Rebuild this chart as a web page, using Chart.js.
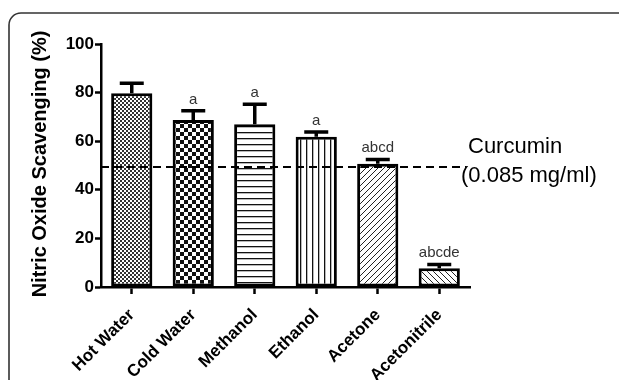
<!DOCTYPE html>
<html>
<head>
<meta charset="utf-8">
<script src="https://cdn.jsdelivr.net/npm/chart.js@4"></script>
<style>
body { margin: 0; background: #fff; }
#wrap { width: 619px; height: 380px; }
</style>
</head>
<body>
<div id="wrap"><canvas id="myChart" width="619" height="380"></canvas></div>
<script>
var categories = ["Hot Water", "Cold Water", "Methanol", "Ethanol", "Acetone", "Acetonitrile"];
var scavenging = [79.7, 68.7, 67, 61.8, 50.7, 7.7];
var errors = [4.1, 3.8, 8.2, 2.0, 1.8, 1.6];
var letters = ["", "a", "a", "a", "abcd", "abcde"];
var yTicks = [0, 20, 40, 60, 80, 100];
var curcuminValue = 49.4;
var curcuminLabel = ["Curcumin", "(0.085 mg/ml)"];
var yTitle = "Nitric Oxide Scavenging (%)";

var FONT = "'Liberation Sans', Arial, sans-serif";
Chart.defaults.font.family = FONT;

// fill patterns, one per bar
function makePattern(kind) {
    var c = document.createElement('canvas');
    var g = c.getContext('2d');
    var s = 6;
    if (kind == 'fine') s = 4;
    if (kind == 'checker') s = 8;
    c.width = s; c.height = s;
    g.fillStyle = '#fff';
    g.fillRect(0, 0, s, s);
    g.fillStyle = '#111';
    g.strokeStyle = '#222';
    if (kind == 'fine') {
        g.fillStyle = '#333';
        g.fillRect(0, 0, 2, 2);
        g.fillRect(2, 2, 2, 2);
    } else if (kind == 'checker') {
        g.fillRect(0, 0, 4, 4);
        g.fillRect(4, 4, 4, 4);
    } else if (kind == 'hlines') {
        g.fillRect(0, 0, s, 1.3);
    } else if (kind == 'vlines') {
        g.fillRect(0, 0, 1.3, s);
    } else if (kind == 'fwd') {
        g.lineWidth = 1;
        g.beginPath();
        g.moveTo(-1, s + 1); g.lineTo(s + 1, -1);
        g.moveTo(-1, 1); g.lineTo(1, -1);
        g.moveTo(s - 1, s + 1); g.lineTo(s + 1, s - 1);
        g.stroke();
    } else if (kind == 'back') {
        g.lineWidth = 1;
        g.beginPath();
        g.moveTo(-1, -1); g.lineTo(s + 1, s + 1);
        g.moveTo(s - 1, -1); g.lineTo(s + 1, 1);
        g.moveTo(-1, s - 1); g.lineTo(1, s + 1);
        g.stroke();
    }
    return document.getElementById('myChart').getContext('2d').createPattern(c, 'repeat');
}
var fills = ['fine', 'checker', 'hlines', 'vlines', 'fwd', 'back'].map(makePattern);

var decorations = {
    id: 'decorations',
    beforeDraw: function(chart) {
        var ctx = chart.ctx;
        ctx.save();
        ctx.fillStyle = '#fff';
        ctx.fillRect(0, 0, chart.width, chart.height);
        // rounded frame
        ctx.strokeStyle = '#333';
        ctx.lineWidth = 1.6;
        ctx.beginPath();
        ctx.roundRect(9, 13, 640, 400, 12);
        ctx.stroke();
        ctx.restore();
    },
    afterDatasetsDraw: function(chart) {
        var ctx = chart.ctx;
        var y = chart.scales.y;
        var area = chart.chartArea;
        var bars = chart.getDatasetMeta(0).data;
        ctx.save();
        // error bars (upper only)
        ctx.strokeStyle = '#000';
        ctx.lineWidth = 3.5;
        bars.forEach(function(bar, i) {
            var top = y.getPixelForValue(scavenging[i] + errors[i]);
            ctx.beginPath();
            ctx.moveTo(bar.x, bar.y);
            ctx.lineTo(bar.x, top);
            ctx.moveTo(bar.x - 12, top);
            ctx.lineTo(bar.x + 12, top);
            ctx.stroke();
            if (letters[i]) {
                ctx.fillStyle = '#333';
                ctx.font = '15px ' + FONT;
                ctx.textAlign = 'center';
                ctx.textBaseline = 'alphabetic';
                ctx.fillText(letters[i], bar.x, top - 7);
            }
        });
        // curcumin reference line
        var cy = y.getPixelForValue(curcuminValue);
        ctx.setLineDash([8, 5]);
        ctx.lineWidth = 2;
        ctx.beginPath();
        ctx.moveTo(area.left, cy);
        ctx.lineTo(area.right - 4, cy);
        ctx.stroke();
        ctx.setLineDash([]);
        ctx.fillStyle = '#000';
        ctx.font = '22px ' + FONT;
        ctx.textAlign = 'left';
        ctx.textBaseline = 'middle';
        ctx.fillText(curcuminLabel[0], 468, cy - 20);
        ctx.fillText(curcuminLabel[1], 461, cy + 9);
        // y axis title
        ctx.translate(40, 164);
        ctx.rotate(-Math.PI / 2);
        ctx.font = 'bold 20px ' + FONT;
        ctx.textAlign = 'center';
        ctx.fillText(yTitle, 0, 0);
        ctx.restore();
    }
};

new Chart('myChart', {
    type: 'bar',
    data: {
        labels: categories,
        datasets: [{
            data: scavenging,
            backgroundColor: fills,
            borderColor: '#000',
            borderWidth: 3,
            borderSkipped: false,
            barPercentage: 0.67,
            categoryPercentage: 1
        }]
    },
    options: {
        responsive: false,
        animation: false,
        devicePixelRatio: 1,
        layout: { padding: { top: 44, left: 0, right: 149, bottom: 0 } },
        plugins: { legend: { display: false }, tooltip: { enabled: false } },
        scales: {
            x: {
                grid: { drawOnChartArea: false, offset: false, tickLength: 7, tickWidth: 2.5, tickColor: '#000' },
                border: { color: '#000', width: 2.5 },
                ticks: { color: '#000', font: { size: 17, weight: 'bold' }, minRotation: 45, maxRotation: 45, padding: 11 },
                afterFit: function(s) { s.height = 93; }
            },
            y: {
                min: 0,
                max: 100,
                grid: { drawOnChartArea: false, tickLength: 6, tickWidth: 2.5, tickColor: '#000' },
                border: { color: '#000', width: 2.5 },
                ticks: { color: '#000', font: { size: 17, weight: 'bold' }, padding: 1 },
                afterBuildTicks: function(s) { s.ticks = yTicks.map(function(v) { return { value: v }; }); },
                afterFit: function(s) { s.width = 101; }
            }
        }
    },
    plugins: [decorations]
});
</script>
</body>
</html>
